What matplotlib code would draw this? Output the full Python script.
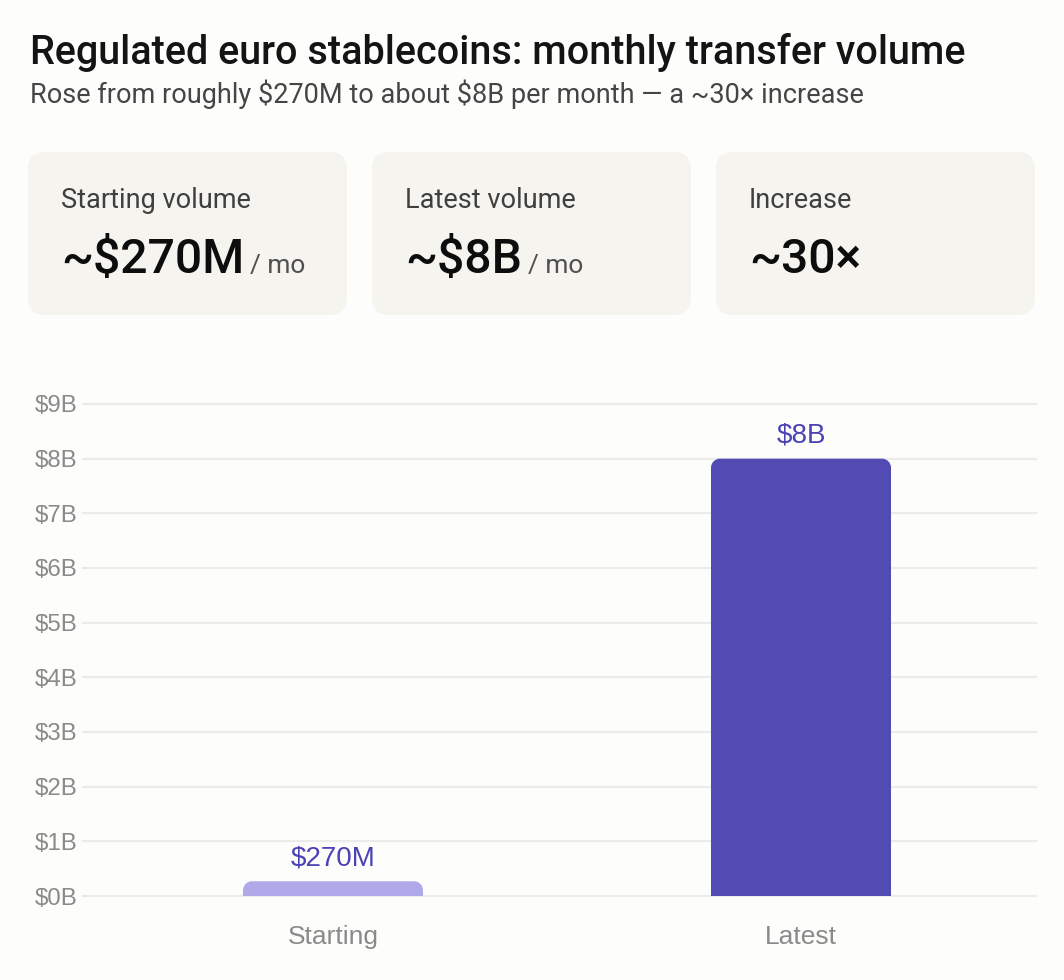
import matplotlib
matplotlib.use("Agg")
import matplotlib.pyplot as plt
from matplotlib.patches import FancyBboxPatch, PathPatch
from matplotlib.path import Path
from matplotlib.transforms import IdentityTransform

# ---- data ----
categories = ["Starting", "Latest"]
values_b = [0.27, 8.0]
bar_labels = ["$270M", "$8B"]
y_ticks = [0, 1, 2, 3, 4, 5, 6, 7, 8, 9]
y_tick_labels = ["$0B", "$1B", "$2B", "$3B", "$4B", "$5B", "$6B", "$7B", "$8B", "$9B"]
card_titles = ["Starting volume", "Latest volume", "Increase"]
card_values = ["~$270M", "~$8B", "~30×"]
card_units = ["/ mo", "/ mo", ""]
title = "Regulated euro stablecoins: monthly transfer volume"
subtitle = "Rose from roughly $270M to about $8B per month — a ~30× increase"

bar_colors = ["#AFA8E9", "#524BB4"]
label_color = "#4B43B5"

W, H = 1064, 980
FONT = ["Roboto", "DejaVu Sans"]
LIB = ["Liberation Sans", "DejaVu Sans"]
plt.rcParams["font.family"] = FONT

fig = plt.figure(figsize=(W / 100, H / 100), dpi=100)
fig.patch.set_facecolor("#FDFDFB")

def fx(x):
    return x / W

def fy(y):
    return 1 - y / H

# title & subtitle
fig.text(fx(30), fy(64), title, fontsize=28.5, fontweight="medium", color="#141414",
         ha="left", va="baseline", parse_math=False)
fig.text(fx(30), fy(103), subtitle, fontsize=19.5, color="#454545",
         ha="left", va="baseline", parse_math=False)

# cards
card_x = [28, 372, 716]
card_w = 319
card_top, card_bot = 152, 315
renderer = fig.canvas.get_renderer()
for i in range(3):
    x0 = card_x[i]
    box = FancyBboxPatch((fx(x0), fy(card_bot)), fx(card_w), (card_bot - card_top) / H,
                         boxstyle="round,pad=0,rounding_size=%f" % (16 / H),
                         mutation_aspect=W / H,
                         transform=fig.transFigure, facecolor="#F5F4EF",
                         edgecolor="none")
    fig.patches.append(box)
    fig.text(fx(x0 + 33), fy(208), card_titles[i], fontsize=19.5, color="#3F3F3F",
             ha="left", va="baseline", parse_math=False)
    t = fig.text(fx(x0 + 33), fy(273), card_values[i], fontsize=34.7, fontweight="medium",
                 color="#0D0D0D", ha="left", va="baseline", parse_math=False)
    if card_units[i]:
        bb = t.get_window_extent(renderer=renderer)
        fig.text(bb.x1 / W + fx(6), fy(273), card_units[i], fontsize=19, color="#505050",
                 ha="left", va="baseline", parse_math=False)

# chart axes
ax_left, ax_right, ax_bottom, ax_top = 83, 1036, 896, 404
ax = fig.add_axes([fx(ax_left), fy(ax_bottom), fx(ax_right - ax_left),
                   (ax_bottom - ax_top) / H])
ax.set_facecolor("none")
xpos = list(range(len(categories)))
bars = ax.bar(xpos, values_b, width=180 / 468, color=bar_colors, zorder=2)
ax.set_xlim(-250 / 468, 1 + 235 / 468)
ax.set_ylim(0, 9)
ax.set_yticks(y_ticks)
ax.set_yticklabels(y_tick_labels, fontfamily=LIB)
ax.set_xticks(xpos)
ax.set_xticklabels(categories, fontfamily=LIB)
ax.tick_params(axis="y", length=0, pad=4, labelsize=17.3, labelcolor="#8A8A8A")
ax.tick_params(axis="x", length=0, pad=21, labelsize=19, labelcolor="#8A8A8A")
for s in ax.spines.values():
    s.set_visible(False)
for yv in y_ticks:
    ax.axhline(yv, color="#EBEBEB", lw=1.6, zorder=1, clip_on=False)

# rounded-top bars built from the bar rectangles
fig.canvas.draw()
r = 9
for b in bars:
    bb = b.get_window_extent(renderer=fig.canvas.get_renderer())
    x0, x1, y0, y1 = bb.x0, bb.x1, bb.y0, bb.y1
    rr = min(r, (y1 - y0))
    k = 0.5523 * rr
    verts = [(x0, y0), (x0, y1 - rr),
             (x0, y1 - rr + k), (x0 + rr - k, y1), (x0 + rr, y1),
             (x1 - rr, y1),
             (x1 - rr + k, y1), (x1, y1 - rr + k), (x1, y1 - rr),
             (x1, y0), (x0, y0)]
    codes = [Path.MOVETO, Path.LINETO,
             Path.CURVE4, Path.CURVE4, Path.CURVE4,
             Path.LINETO,
             Path.CURVE4, Path.CURVE4, Path.CURVE4,
             Path.LINETO, Path.CLOSEPOLY]
    pp = PathPatch(Path(verts, codes), facecolor=b.get_facecolor(), edgecolor="none",
                   transform=IdentityTransform(), zorder=3)
    fig.patches.append(pp)
    b.set_visible(False)

for xi, v, lab in zip(xpos, values_b, bar_labels):
    ax.annotate(lab, (xi, v), xytext=(0, 10), textcoords="offset pixels",
                ha="center", va="bottom", fontsize=20, color=label_color,
                fontfamily=LIB, annotation_clip=False)

fig.savefig("out.png", dpi=100, facecolor=fig.get_facecolor())
